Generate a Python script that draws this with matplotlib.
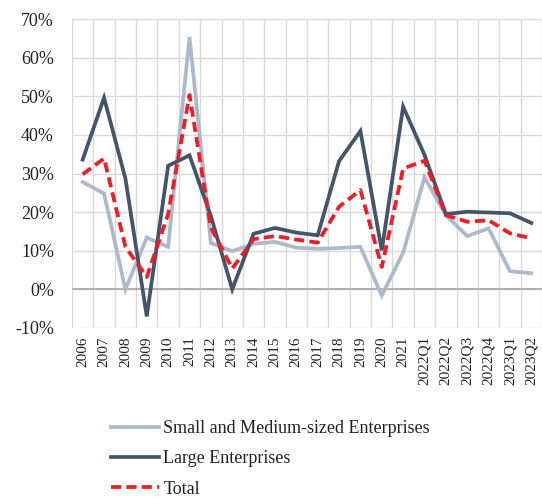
import numpy as np
import matplotlib
matplotlib.use("Agg")
import matplotlib.pyplot as plt
from matplotlib.ticker import FixedLocator, FuncFormatter

plt.rcParams["font.family"] = ["Liberation Serif", "DejaVu Serif"]

periods = ["2006", "2007", "2008", "2009", "2010", "2011", "2012", "2013",
           "2014", "2015", "2016", "2017", "2018", "2019", "2020", "2021",
           "2022Q1", "2022Q2", "2022Q3", "2022Q4", "2023Q1", "2023Q2"]

sme = [27.8, 24.8, 0.0, 13.4, 11.0, 65.3, 12.0, 9.9, 11.8, 12.3, 10.8, 10.5,
       10.7, 11.0, -1.6, 9.5, 29.0, 19.2, 13.8, 15.8, 4.7, 4.2]
large = [33.6, 49.6, 28.7, -7.0, 32.0, 34.7, 19.0, 0.0, 14.4, 15.9, 14.7, 14.0,
         33.2, 41.0, 10.1, 47.3, 34.8, 19.5, 20.1, 19.9, 19.7, 17.2]
total = [29.8, 33.9, 11.0, 3.2, 19.5, 50.3, 16.0, 5.4, 13.0, 13.8, 12.9, 12.1,
         21.4, 25.7, 5.8, 31.3, 33.3, 19.2, 17.5, 17.9, 14.5, 13.2]

fig = plt.figure(figsize=(5.42, 5.0), dpi=100)
ax = fig.add_axes([72 / 542, 1 - 328 / 500, 470 / 542, 309 / 500])

x = np.arange(len(periods))
ax.plot(x, sme, color="#adb9ca", lw=2.7, solid_joinstyle="miter",
        label="Small and Medium-sized Enterprises", zorder=3)
ax.plot(x, large, color="#44546a", lw=2.7, solid_joinstyle="miter",
        label="Large Enterprises", zorder=4)
ax.plot(x, total, color="#ee1c25", lw=2.7, dashes=(2.7, 1.4),
        label="Total", zorder=5)

ax.set_xlim(-0.5, len(periods) - 0.5)
ax.set_ylim(-10, 70)
ax.set_yticks(np.arange(-10, 71, 10))
ax.yaxis.set_major_formatter(FuncFormatter(lambda v, p: f"{v:.0f}%"))
ax.set_xticks(x)
ax.set_xticklabels(periods, rotation=90, fontsize=11, color="#222222")
ax.xaxis.set_minor_locator(FixedLocator(np.arange(-0.5, len(periods), 1)))
ax.tick_params(axis="y", labelsize=13, colors="#222222", length=0, pad=13)
ax.tick_params(axis="x", which="both", length=0, pad=6)

ax.grid(True, axis="y", color="#d9d9d9", lw=1.0)
ax.grid(True, axis="x", which="minor", color="#d9d9d9", lw=1.0)
ax.axhline(0, color="#a6a6a6", lw=1.2, zorder=2)
ax.set_axisbelow(True)
for s in ax.spines.values():
    s.set_visible(False)

fig.legend(loc="upper left", bbox_to_anchor=(111 / 542, 1 - 420 / 500),
           frameon=False, fontsize=13, handlelength=2.65, handletextpad=0.25,
           labelspacing=0.74, borderaxespad=0, borderpad=0,
           labelcolor="#222222")

fig.savefig("out.png", dpi=100)
